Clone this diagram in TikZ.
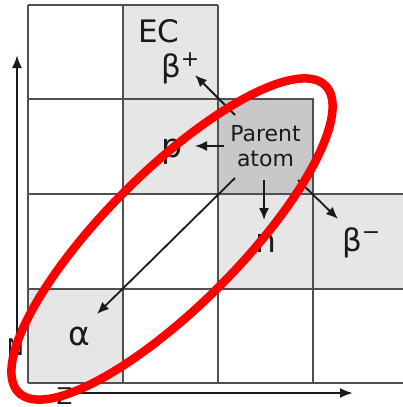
\documentclass[tikz,border=0pt]{standalone}
\usepackage{fontspec}
\setmainfont{DejaVu Sans}
\usetikzlibrary{arrows.meta}
\definecolor{gridline}{HTML}{505050}
\definecolor{cellA}{HTML}{E6E6E6}
\definecolor{cellB}{HTML}{C8C8C8}
\definecolor{ink}{HTML}{1A1A1A}
\tikzset{
  gridpen/.style={draw=gridline, line width=1.6pt},
  decay/.style={draw=ink, line width=1.8pt, -{Latex[length=12pt,width=10pt]}},
  axis/.style={draw=ink, line width=2.2pt, -{Latex[length=13pt,width=10pt]}},
  biglabel/.style={text=ink, inner sep=0pt, anchor=base, font=\fontsize{33}{33}\selectfont},
  seclabel/.style={text=ink, inner sep=0pt, anchor=base, font=\fontsize{31}{31}\selectfont},
  axlabel/.style={text=ink, inner sep=0pt, anchor=base, font=\fontsize{23}{23}\selectfont},
}
\begin{document}
\begin{tikzpicture}[x=1pt,y=-1pt]
\useasboundingbox (0,0) rectangle (403,407);
\clip (0,0) rectangle (403,407);
% gray cells
\fill[cellA] (123,5) rectangle (218,194);
\fill[cellA] (218,194) rectangle (410,289);
\fill[cellA] (28,289) rectangle (123,383);
\node[fill=cellB, draw=gridline, line width=1.6pt, minimum width=95pt, minimum height=95pt,
      align=center, text=ink, font=\fontsize{22}{25}\selectfont, inner sep=0pt]
      (parent) at (265.5,146.5) {Parent\\atom};
% grid lines
\draw[gridpen] (28,5) -- (218,5);
\draw[gridpen] (28,99) -- (313,99);
\draw[gridpen] (28,194) -- (410,194);
\draw[gridpen] (28,289) -- (410,289);
\draw[gridpen] (28,383) -- (410,383);
\draw[gridpen] (28,5) -- (28,383);
\draw[gridpen] (123,5) -- (123,383);
\draw[gridpen] (218,5) -- (218,383);
\draw[gridpen] (313,99) -- (313,383);
% labels
\node[seclabel] (ec) at (159,42) {EC};
\node[seclabel, anchor=base west] (bplus) at (161,77) {β\raisebox{11pt}{\fontsize{22}{22}\selectfont +}};
\node[biglabel] (p) at (171.5,157) {p};
\node[biglabel] (n) at (265.5,252) {n};
\node[seclabel, anchor=base west] (bminus) at (342,251) {β\raisebox{12pt}{\fontsize{22}{22}\selectfont −}};
\node[biglabel] (alpha) at (79.5,345) {α};
% decay arrows
\coordinate (s1) at (235,115); \coordinate (t1) at (195,75);
\coordinate (s2) at (224,146); \coordinate (t2) at (195,146);
\coordinate (s3) at (264,180); \coordinate (t3) at (264,220);
\coordinate (s4) at (298,180); \coordinate (t4) at (338,219);
\coordinate (s5) at (235,178); \coordinate (t5) at (97,314);
\draw[decay] (s1) -- (t1);
\draw[decay] (s2) -- (t2);
\draw[decay] (s3) -- (t3);
\draw[decay] (s4) -- (t4);
\draw[decay] (s5) -- (t5);
% axes
\coordinate (n0) at (17,333); \coordinate (n1) at (17,55);
\coordinate (z0) at (80,393); \coordinate (z1) at (353,393);
\draw[axis] (n0) -- (n1);
\draw[axis] (z0) -- (z1);
\node[axlabel] (nlab) at (15.5,355) {N};
\node[axlabel] (zlab) at (64.5,404) {Z};
% red ellipse
\draw[red, line width=8.5pt, rotate around={45:(172,239)}] (172,239) ellipse [x radius=217pt, y radius=67pt];
\end{tikzpicture}
\end{document}
